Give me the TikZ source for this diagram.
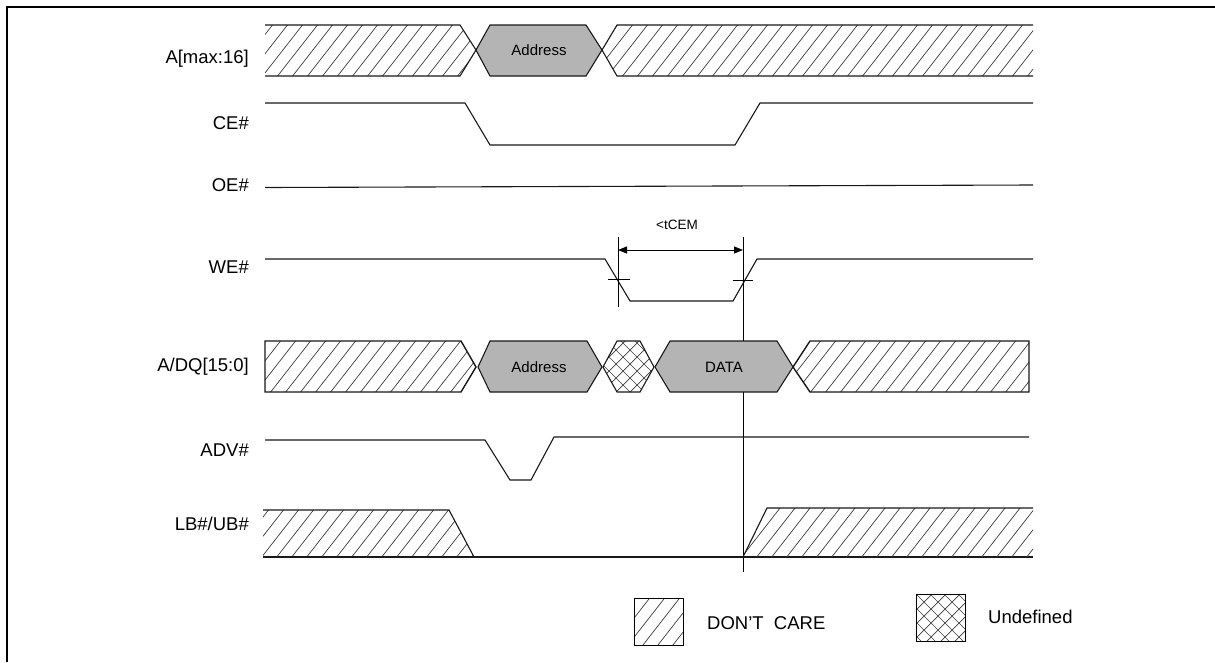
\documentclass[tikz,border=0pt]{standalone}
\usepackage{fontspec}
\setmainfont{Liberation Sans}
\usetikzlibrary{arrows.meta}
\definecolor{boxgray}{RGB}{180,180,180}
\definecolor{hatchgray}{RGB}{60,60,60}
\newcommand{\hatchfill}[1]{%
  \begin{scope}
    \clip #1;
    \foreach \k in {-40,...,75} {\draw[hatchln] (\k*15,700) -- ++(547,-700);}
  \end{scope}}
\newcommand{\crossfill}[1]{%
  \begin{scope}
    \clip #1;
    \foreach \k in {-10,...,100} {\draw[hatchln] (\k*14,700) -- ++(700,-700);
                                  \draw[hatchln] (\k*14,700) -- ++(-700,-700);}
  \end{scope}}
\begin{document}
\begin{tikzpicture}[x=1pt,y=-1pt,
  sig/.style={line width=1.1pt,black!90,line join=miter},
  hatchln/.style={line width=0.7pt,hatchgray},
  lbl/.style={anchor=east,inner sep=0pt,font=\fontsize{18.5}{20}\selectfont},
  boxtxt/.style={inner sep=0pt,font=\fontsize{15}{17}\selectfont},
  legtxt/.style={anchor=west,inner sep=0pt,font=\fontsize{18.5}{20}\selectfont},
  dimarrow/.style={line width=1pt,{Triangle[length=9pt,width=7pt]}-{Triangle[length=9pt,width=7pt]}}]
\useasboundingbox (0,0) rectangle (1215,662);
% frame
\draw[line width=2.2pt] (7,662) -- (7,7) -- (1215,7);
% labels
\node[lbl] (lA)   at (249,59)  {A[max:16]};
\node[lbl] (lCE)  at (249,123) {CE\#};
\node[lbl] (lOE)  at (249,185) {OE\#};
\node[lbl] (lWE)  at (249,267) {WE\#};
\node[lbl] (lAD)  at (249,367) {A/DQ[15:0]};
\node[lbl] (lADV) at (249,450) {ADV\#};
\node[lbl] (lLB)  at (249,524) {LB\#/UB\#};
% ---- A[max:16]
\hatchfill{(265,25) -- (460,25) -- (476,50) -- (460,76) -- (265,76) -- cycle}
\draw[sig] (265,25) -- (460,25) -- (476,50) -- (460,76) -- (265,76);
\filldraw[sig,fill=boxgray] (476,50) -- (490,25) -- (586,25) -- (602,50) -- (586,76) -- (490,76) -- cycle;
\node[boxtxt] (tA1) at (539,50) {Address};
\hatchfill{(602,50) -- (617,25) -- (1033,25) -- (1033,76) -- (617,76) -- cycle}
\draw[sig] (1033,25) -- (617,25) -- (602,50) -- (617,76) -- (1033,76);
% ---- CE#
\draw[sig] (265,103) -- (465,103) -- (490,145) -- (735,145) -- (760,103) -- (1033,103);
% ---- OE#
\draw[sig] (265,187.5) -- (1033,185);
% ---- WE#
\draw[sig] (265,259) -- (605,259) -- (630,301) -- (733,301) -- (757,259) -- (1033,259);
% timing marker
\coordinate (v1t) at (618,237);
\coordinate (v1b) at (618,307);
\coordinate (v2t) at (743,237);
\coordinate (v2b) at (743,572);
\draw[line width=1pt] (v1t) -- (v1b);
\draw[line width=1pt] (v2t) -- (v2b);
\coordinate (a1) at (618,250);
\coordinate (a2) at (743,250);
\draw[dimarrow] (a1) -- (a2);
\node[inner sep=0pt,font=\fontsize{13.5}{15}\selectfont] (tc) at (677,225) {<tCEM};
\coordinate (k1a) at (608,279); \coordinate (k1b) at (630,279);
\coordinate (k2a) at (733,280); \coordinate (k2b) at (753,280);
\draw[line width=1pt] (k1a) -- (k1b);
\draw[line width=1pt] (k2a) -- (k2b);
% ---- A/DQ[15:0]
\hatchfill{(265,341) -- (461,341) -- (476,367) -- (461,392) -- (265,392) -- cycle}
\draw[sig,line width=1.4pt] (265,341) -- (461,341) -- (476,367) -- (461,392) -- (265,392) -- cycle;
\filldraw[sig,fill=boxgray] (478,367) -- (490,341) -- (587,341) -- (602,367) -- (587,392) -- (490,392) -- cycle;
\node[boxtxt] (tA2) at (539,367) {Address};
\crossfill{(603,367) -- (617,341) -- (640,341) -- (654,367) -- (640,392) -- (617,392) -- cycle}
\draw[sig] (603,367) -- (617,341) -- (640,341) -- (654,367) -- (640,392) -- (617,392) -- cycle;
\filldraw[sig,fill=boxgray] (655,367) -- (670,341) -- (777,341) -- (793,367) -- (777,392) -- (670,392) -- cycle;
\node[boxtxt] (tD) at (724,367) {DATA};
\hatchfill{(793,367) -- (810,341) -- (1029,341) -- (1029,392) -- (810,392) -- cycle}
\draw[sig,line width=1.4pt] (793,367) -- (810,341) -- (1029,341) -- (1029,392) -- (810,392) -- cycle;
% ---- ADV#
\draw[sig] (265,440) -- (485,440) -- (510,480) -- (531,480) -- (554,437) -- (1029,437);
% ---- LB#/UB#
\hatchfill{(263,510) -- (449,510) -- (474,557) -- (263,557) -- cycle}
\draw[sig] (263,510) -- (449,510) -- (474,557);
\draw[sig] (263,557) -- (1033,557);
\hatchfill{(743,557) -- (767,508) -- (1033,508) -- (1033,557) -- cycle}
\draw[sig] (743,557) -- (767,508) -- (1033,508);
% ---- legend
\hatchfill{(634,598) rectangle (683,645)}
\draw[line width=1pt] (634,598) rectangle (683,645);
\node[legtxt] (lg1) at (707,623) {DON’T\ \ CARE};
\crossfill{(916,594) rectangle (965,641)}
\draw[line width=1pt] (916,594) rectangle (965,641);
\node[legtxt] (lg2) at (988,617) {Undefined};
\end{tikzpicture}
\end{document}
